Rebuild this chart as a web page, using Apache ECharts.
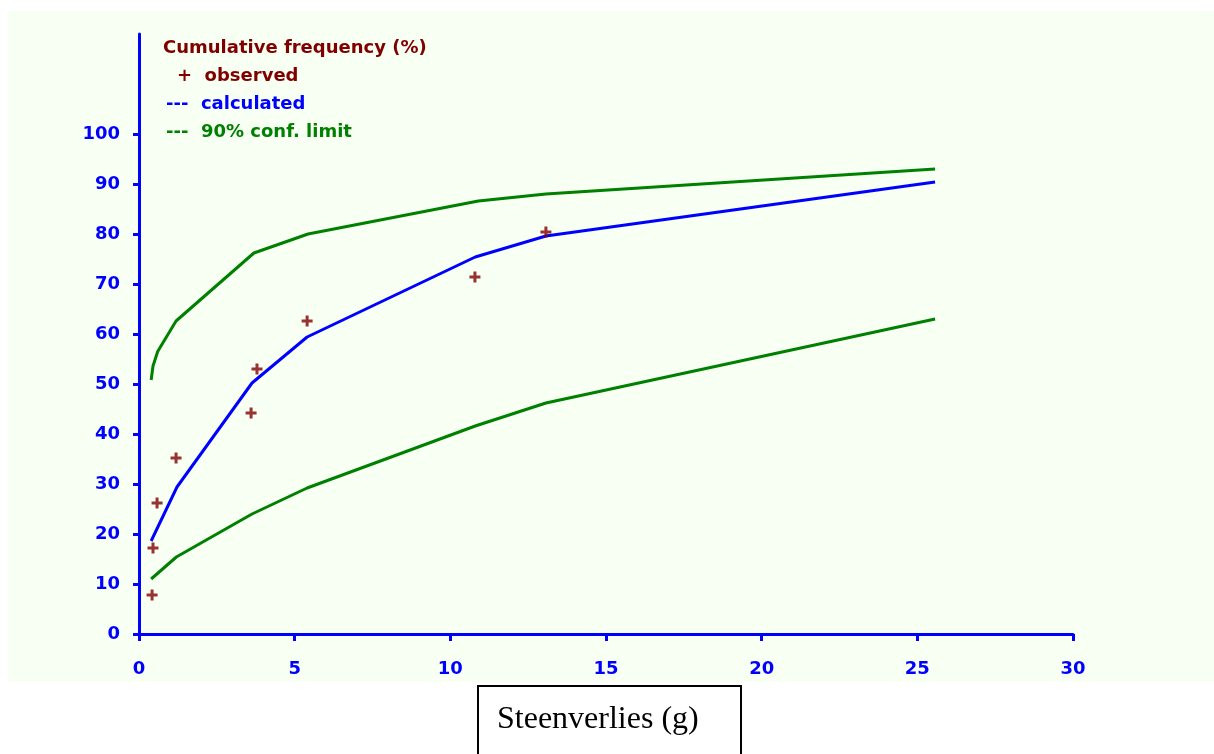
<!DOCTYPE html>
<html>
<head>
<meta charset="utf-8">
<script src="https://cdn.jsdelivr.net/npm/echarts@6/dist/echarts.min.js"></script>
<style>html,body{margin:0;padding:0;background:#fff}#c{width:1214px;height:754px}</style>
</head>
<body>
<div id="c"></div>
<script>
// Data
const obsX = [0.42, 0.45, 0.58, 1.19, 3.6, 3.79, 5.4, 10.79, 13.07];
const obsY = [7.8, 17.2, 26.2, 35.2, 44.2, 53.0, 62.6, 71.4, 80.4];

const calcX = [0.39, 1.22, 3.63, 5.4, 10.8, 13.07, 25.57];
const calcY = [18.6, 29.4, 50.2, 59.4, 75.4, 79.6, 90.4];

const upX = [0.39, 0.45, 0.6, 1.19, 3.69, 5.43, 10.9, 13.07, 25.57];
const upY = [50.8, 53.6, 56.5, 62.6, 76.2, 80.0, 86.6, 88.0, 93.0];

const lowX = [0.39, 1.2, 3.63, 5.4, 10.8, 13.07, 25.57];
const lowY = [11.0, 15.4, 24.0, 29.2, 41.6, 46.2, 63.0];

const yTicks = [0, 10, 20, 30, 40, 50, 60, 70, 80, 90, 100];
const xTicks = [0, 5, 10, 15, 20, 25, 30];

const legendTexts = ['Cumulative frequency (%)', '+  observed', '---  calculated', '---  90% conf. limit'];
const axisTitle = 'Steenverlies (g)';

const zip = (a, b) => a.map((v, i) => [v, b[i]]);
const BLUE = '#0000ff', GREEN = '#008000', RED = '#800000';
const FONT = 'DejaVu Sans';
const LFONT = 'bold 18px "DejaVu Sans"';

const chart = echarts.init(document.getElementById('c'), null, {renderer: 'canvas'});
chart.setOption({
  animation: false,
  backgroundColor: '#ffffff',
  grid: {left: 139, right: 141, top: 34, bottom: 120, containLabel: false},
  xAxis: {
    type: 'value', min: 0, max: 30, interval: 5,
    axisLine: {show: true, onZero: false, lineStyle: {color: BLUE, width: 3}},
    axisTick: {show: true, length: 7, lineStyle: {color: BLUE, width: 3}, customValues: xTicks},
    axisLabel: {color: BLUE, fontFamily: FONT, fontWeight: 'bold', fontSize: 18, margin: 26, customValues: xTicks},
    splitLine: {show: false}
  },
  yAxis: {
    type: 'value', min: 0, max: 120, interval: 10,
    axisLine: {show: true, onZero: false, lineStyle: {color: BLUE, width: 3}},
    axisTick: {show: true, length: 6, lineStyle: {color: BLUE, width: 3}, customValues: yTicks},
    axisLabel: {color: BLUE, fontFamily: FONT, fontWeight: 'bold', fontSize: 18, margin: 19, customValues: yTicks},
    splitLine: {show: false}
  },
  graphic: [
    {type: 'rect', z: -100, silent: true, shape: {x: 8, y: 11, width: 1206, height: 671}, style: {fill: '#f8fff3'}},
    {type: 'text', left: 163, top: 39, style: {text: legendTexts[0], fill: RED, font: LFONT}},
    {type: 'text', left: 177, top: 67, style: {text: legendTexts[1], fill: RED, font: LFONT}},
    {type: 'text', left: 166, top: 95, style: {text: legendTexts[2], fill: BLUE, font: LFONT}},
    {type: 'text', left: 166, top: 123, style: {text: legendTexts[3], fill: GREEN, font: LFONT}},
    {type: 'rect', shape: {x: 478, y: 686, width: 263, height: 90}, style: {fill: '#ffffff', stroke: '#000000', lineWidth: 2}},
    {type: 'text', left: 497, top: 704, style: {text: axisTitle, fill: '#000000', font: '32px "Liberation Serif"'}}
  ],
  series: [
    {type: 'line', data: zip(upX, upY), showSymbol: false, lineStyle: {color: GREEN, width: 3}, z: 2},
    {type: 'line', data: zip(lowX, lowY), showSymbol: false, lineStyle: {color: GREEN, width: 3}, z: 2},
    {type: 'line', data: zip(calcX, calcY), showSymbol: false, lineStyle: {color: BLUE, width: 3}, z: 3},
    {type: 'scatter', data: zip(obsX, obsY), symbol: 'path://M4,0 H7 V4 H11 V7 H7 V11 H4 V7 H0 V4 H4 Z', symbolSize: 11, itemStyle: {color: RED}, z: 4}
  ]
});
</script>
</body>
</html>
